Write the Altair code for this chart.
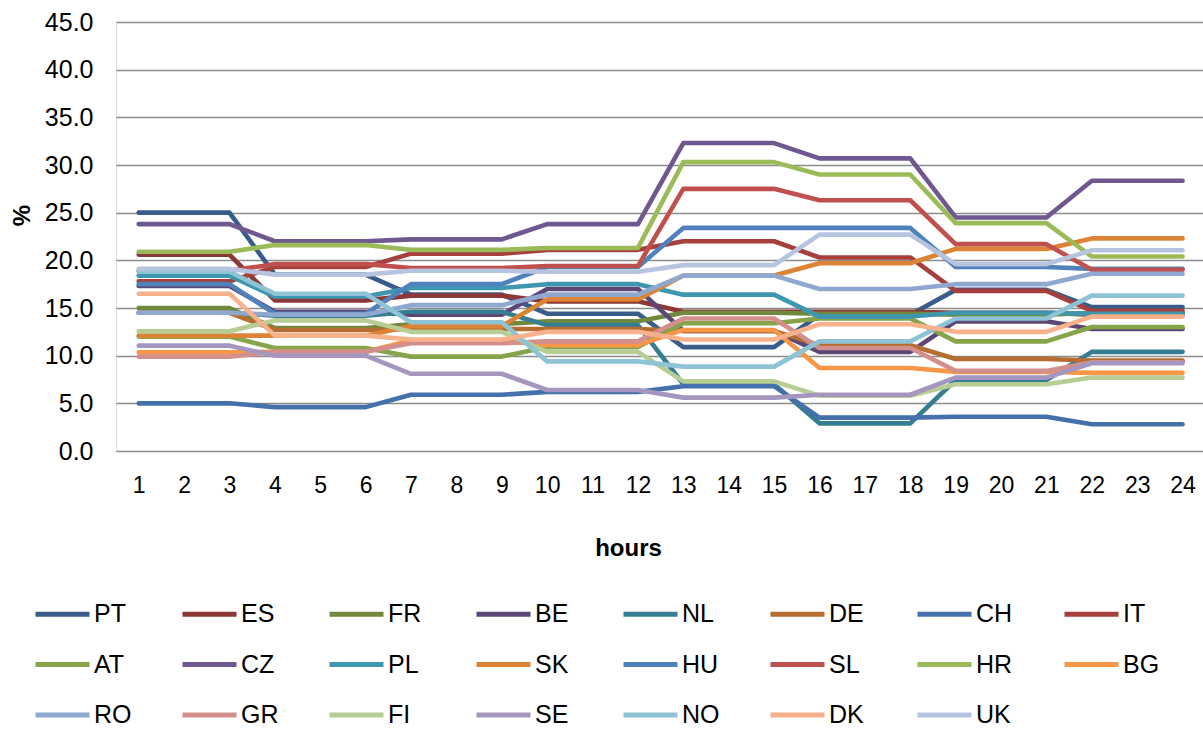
import altair as alt
import pandas as pd

hours = list(range(1, 25))

# Hourly share (%) per country
PT = [25.0, 25.0, 25.0, 18.5, 18.5, 18.5, 16.4, 16.4, 16.4, 14.4, 14.4, 14.4,
      10.9, 10.9, 10.9, 14.3, 14.3, 14.3, 16.9, 16.9, 16.9, 15.1, 15.1, 15.1]
ES = [20.6, 20.6, 20.6, 15.8, 15.8, 15.8, 16.3, 16.3, 16.3, 15.7, 15.7, 15.7,
      14.6, 14.6, 14.6, 14.6, 14.6, 14.6, 14.5, 14.5, 14.5, 14.3, 14.3, 14.3]
FR = [15.0, 15.0, 15.0, 12.9, 12.9, 12.9, 13.3, 13.3, 13.3, 13.6, 13.6, 13.6,
      14.5, 14.5, 14.5, 14.4, 14.4, 14.4, 14.3, 14.3, 14.3, 14.5, 14.5, 14.5]
BE = [17.3, 17.3, 17.3, 14.6, 14.6, 14.6, 14.3, 14.3, 14.3, 17.0, 17.0, 17.0,
      12.6, 12.6, 12.6, 10.4, 10.4, 10.4, 13.6, 13.6, 13.6, 12.8, 12.8, 12.8]
NL = [14.5, 14.5, 14.5, 14.2, 14.2, 14.2, 14.6, 14.6, 14.6, 13.2, 13.2, 13.2,
      7.0, 7.0, 7.0, 2.9, 2.9, 2.9, 7.45, 7.45, 7.45, 10.4, 10.4, 10.4]
DE = [14.5, 14.5, 14.5, 12.7, 12.7, 12.7, 12.8, 12.8, 12.8, 12.8, 12.8, 12.8,
      12.6, 12.6, 12.6, 11.1, 11.1, 11.1, 9.65, 9.65, 9.65, 9.5, 9.5, 9.5]
CH = [5.0, 5.0, 5.0, 4.6, 4.6, 4.6, 5.9, 5.9, 5.9, 6.2, 6.2, 6.2,
      6.8, 6.8, 6.8, 3.5, 3.5, 3.5, 3.6, 3.6, 3.6, 2.8, 2.8, 2.8]
IT = [17.8, 17.8, 17.8, 19.3, 19.3, 19.3, 20.7, 20.7, 20.7, 21.1, 21.1, 21.1,
      22.0, 22.0, 22.0, 20.3, 20.3, 20.3, 16.8, 16.8, 16.8, 14.7, 14.7, 14.7]
AT = [12.0, 12.0, 12.0, 10.8, 10.8, 10.8, 9.9, 9.9, 9.9, 10.9, 10.9, 10.9,
      13.4, 13.4, 13.4, 13.9, 13.9, 13.9, 11.5, 11.5, 11.5, 13.0, 13.0, 13.0]
CZ = [23.8, 23.8, 23.8, 22.0, 22.0, 22.0, 22.2, 22.2, 22.2, 23.8, 23.8, 23.8,
      32.3, 32.3, 32.3, 30.7, 30.7, 30.7, 24.5, 24.5, 24.5, 28.35, 28.35, 28.35]
PL = [18.4, 18.4, 18.4, 16.2, 16.2, 16.2, 17.1, 17.1, 17.1, 17.5, 17.5, 17.5,
      16.4, 16.4, 16.4, 14.1, 14.1, 14.1, 14.5, 14.5, 14.5, 14.4, 14.4, 14.4]
SK = [12.1, 12.1, 12.1, 12.1, 12.1, 12.1, 13.1, 13.1, 13.1, 15.9, 15.9, 15.9,
      18.4, 18.4, 18.4, 19.7, 19.7, 19.7, 21.2, 21.2, 21.2, 22.3, 22.3, 22.3]
HU = [17.5, 17.5, 17.5, 14.4, 14.4, 14.4, 17.5, 17.5, 17.5, 19.3, 19.3, 19.3,
      23.4, 23.4, 23.4, 23.4, 23.4, 23.4, 19.3, 19.3, 19.3, 19.1, 19.1, 19.1]
SL = [18.9, 18.9, 18.9, 19.6, 19.6, 19.6, 19.2, 19.2, 19.2, 19.4, 19.4, 19.4,
      27.5, 27.5, 27.5, 26.3, 26.3, 26.3, 21.7, 21.7, 21.7, 19.0, 19.0, 19.0]
HR = [20.9, 20.9, 20.9, 21.6, 21.6, 21.6, 21.1, 21.1, 21.1, 21.3, 21.3, 21.3,
      30.3, 30.3, 30.3, 29.0, 29.0, 29.0, 23.9, 23.9, 23.9, 20.4, 20.4, 20.4]
BG = [10.35, 10.35, 10.35, 10.4, 10.4, 10.4, 11.6, 11.6, 11.6, 11.1, 11.1, 11.1,
      12.7, 12.7, 12.7, 8.7, 8.7, 8.7, 8.3, 8.3, 8.3, 8.2, 8.2, 8.2]
RO = [14.5, 14.5, 14.5, 14.3, 14.3, 14.3, 15.3, 15.3, 15.3, 16.4, 16.4, 16.4,
      18.4, 18.4, 18.4, 17.0, 17.0, 17.0, 17.5, 17.5, 17.5, 18.6, 18.6, 18.6]
GR = [9.9, 9.9, 9.9, 10.4, 10.4, 10.4, 11.3, 11.3, 11.3, 11.5, 11.5, 11.5,
      13.9, 13.9, 13.9, 10.8, 10.8, 10.8, 8.4, 8.4, 8.4, 9.3, 9.3, 9.3]
FI = [12.55, 12.55, 12.55, 13.7, 13.7, 13.7, 12.5, 12.5, 12.5, 10.4, 10.4, 10.4,
      7.3, 7.3, 7.3, 5.8, 5.8, 5.8, 7.0, 7.0, 7.0, 7.7, 7.7, 7.7]
SE = [11.05, 11.05, 11.05, 10.0, 10.0, 10.0, 8.1, 8.1, 8.1, 6.4, 6.4, 6.4,
      5.6, 5.6, 5.6, 5.9, 5.9, 5.9, 7.7, 7.7, 7.7, 9.2, 9.2, 9.2]
NO = [18.8, 18.8, 18.8, 16.5, 16.5, 16.5, 13.5, 13.5, 13.5, 9.4, 9.4, 9.4,
      8.85, 8.85, 8.85, 11.5, 11.5, 11.5, 13.9, 13.9, 13.9, 16.3, 16.3, 16.3]
DK = [16.5, 16.5, 16.5, 12.1, 12.1, 12.1, 11.7, 11.7, 11.7, 12.5, 12.5, 12.5,
      11.7, 11.7, 11.7, 13.3, 13.3, 13.3, 12.5, 12.5, 12.5, 14.1, 14.1, 14.1]
UK = [19.1, 19.1, 19.1, 18.5, 18.5, 18.5, 18.9, 18.9, 18.9, 18.8, 18.8, 18.8,
      19.5, 19.5, 19.5, 22.7, 22.7, 22.7, 19.6, 19.6, 19.6, 21.05, 21.05, 21.05]

countries = ["PT", "ES", "FR", "BE", "NL", "DE", "CH", "IT",
             "AT", "CZ", "PL", "SK", "HU", "SL", "HR", "BG",
             "RO", "GR", "FI", "SE", "NO", "DK", "UK"]
colors = ["#385D8A", "#8C3836", "#71893F", "#5C4776", "#357D91", "#B66D31", "#4470AB", "#A5403D",
          "#86A44A", "#6F578F", "#3F97AF", "#DD8336", "#4F81BD", "#C0504D", "#9BBB59", "#F79646",
          "#8FA8CF", "#D38F8C", "#B7CD94", "#A596C0", "#8EC3D6", "#F7B28B", "#B7C4DF"]

series = {"PT": PT, "ES": ES, "FR": FR, "BE": BE, "NL": NL, "DE": DE, "CH": CH, "IT": IT,
          "AT": AT, "CZ": CZ, "PL": PL, "SK": SK, "HU": HU, "SL": SL, "HR": HR, "BG": BG,
          "RO": RO, "GR": GR, "FI": FI, "SE": SE, "NO": NO, "DK": DK, "UK": UK}

df = pd.DataFrame(
    [{"hour": h, "country": c, "share": v}
     for c in countries for h, v in zip(hours, series[c])]
)

FONT = "Liberation Sans"

x_enc = alt.X(
    "hour:Q",
    scale=alt.Scale(domain=[0.5, 24.45], nice=False, zero=False),
    axis=alt.Axis(
        values=hours, format="d", grid=False, domain=False, ticks=False, tickSize=0,
        labelPadding=23, labelFontSize=23, labelFont=FONT, labelColor="#000000",
        labelBaseline="top", labelFlush=False,
        title="hours", titleFontSize=24, titleFont=FONT, titleFontWeight="bold",
        titleColor="#000000", titleX=512, titleY=97, titleBaseline="middle",
    ),
)
y_enc = alt.Y(
    "share:Q",
    scale=alt.Scale(domain=[0, 45], nice=False),
    axis=alt.Axis(
        values=[0, 5, 10, 15, 20, 25, 30, 35, 40, 45], format=".1f",
        domain=False, ticks=False, tickSize=0, labelPadding=23,
        labelFontSize=25, labelFont=FONT, labelColor="#000000",
        gridColor="#8C8C8C", gridWidth=1.3,
        title="%", titleFontSize=24, titleFont=FONT, titleFontWeight="bold",
        titleColor="#000000", titleAngle=-90, titleX=-94, titleY=193,
        titleBaseline="middle", titleAlign="center",
    ),
)
color_enc = alt.Color(
    "country:N",
    sort=countries,
    scale=alt.Scale(domain=countries, range=colors),
    legend=alt.Legend(
        orient="none", legendX=-83, legendY=562.5, direction="horizontal",
        columns=8, title=None, symbolType="stroke", symbolSize=2916,
        symbolStrokeWidth=5, labelFontSize=25, labelFont=FONT, labelColor="#000000",
        labelOffset=2, columnPadding=40, rowPadding=7.5, gridAlign="all",
    ),
)

# One layer per country so the later series are drawn on top
layers = [
    alt.Chart(df)
    .transform_filter(alt.datum.country == c)
    .mark_line(strokeWidth=4.6, strokeCap="round", strokeJoin="round")
    .encode(x=x_enc, y=y_enc, color=color_enc)
    for c in countries
]

chart = (
    alt.layer(*layers)
    .properties(
        width=1087, height=429,
        padding={"left": 116, "top": 22, "right": 0, "bottom": 278},
        autosize=alt.AutoSizeParams(type="none"),
    )
    .configure_view(stroke=None)
    .configure(background="white")
)

chart.save("out.html", embed_options={"renderer": "svg", "actions": False})
